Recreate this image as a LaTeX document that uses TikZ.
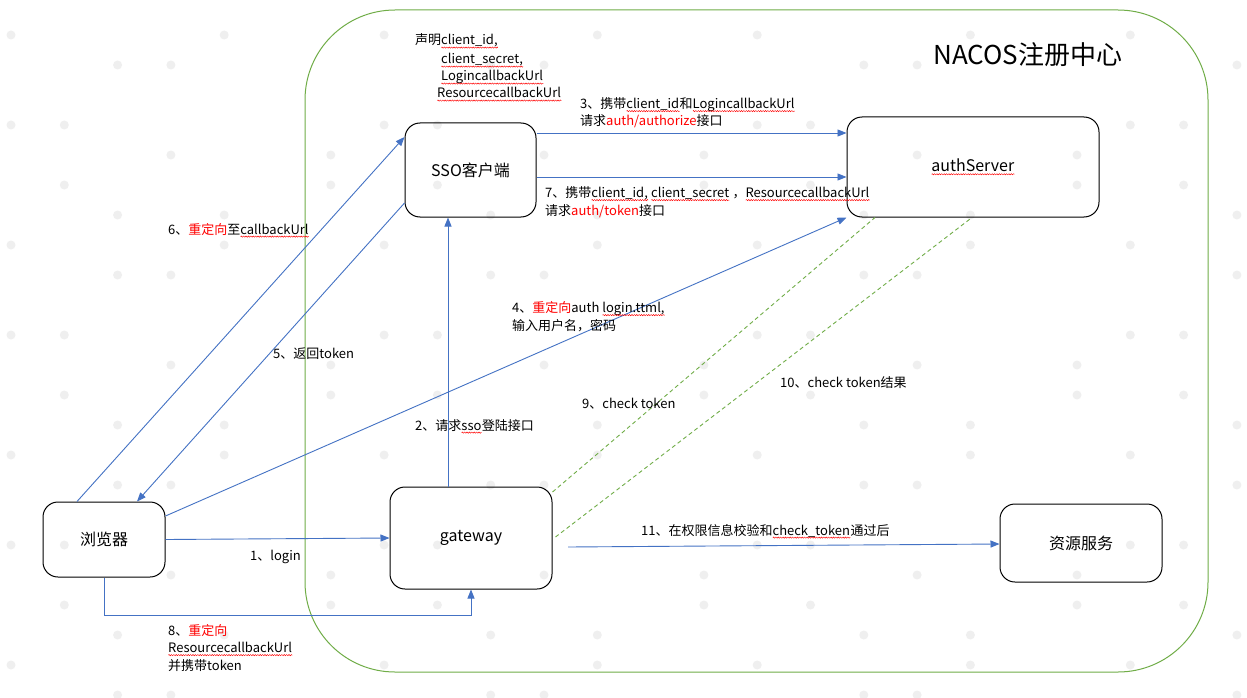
\documentclass[tikz,border=0pt]{standalone}
\usepackage{fontspec}
\usetikzlibrary{arrows.meta,calc,decorations.pathmorphing}
\newfontfamily\cjk{Noto Sans CJK SC}
\definecolor{lnblue}{HTML}{4472C4}
\definecolor{lngreen}{HTML}{70AD47}
\definecolor{txred}{HTML}{FF0000}
\definecolor{dotgray}{HTML}{EFEFEF}
\newsavebox\wvbox
\newdimen\wvlen
\newcommand\wv[1]{\sbox\wvbox{#1}\wvlen=\wd\wvbox\leavevmode\rlap{\usebox\wvbox}\raisebox{-2.6pt}{\tikz[baseline=0pt,x=1pt,y=1pt]\draw[red,sharp corners,solid,line width=0.45pt,decorate,decoration={zigzag,segment length=2.4pt,amplitude=0.6pt}] (0,0) -- (\the\wvlen,0);}}
\newcommand\rd[1]{\textcolor{txred}{#1}}
\tikzset{
  box/.style={draw=black,line width=1pt,rounded corners=15pt,font=\cjk\fontsize{16}{19}\selectfont,inner sep=0pt},
  lbl/.style={anchor=base west,inner sep=0pt,font=\cjk\fontsize{13}{17.5}\selectfont,align=left},
  arr/.style={draw=lnblue,line width=0.9pt,-{Triangle[length=9pt,width=7pt]}},
  dsh/.style={draw=lngreen,line width=0.9pt,dash pattern=on 4pt off 3pt}
}
\begin{document}
\begin{tikzpicture}[x=1pt,y=-1pt]
\useasboundingbox (0,0) rectangle (1247,698);
\fill[white] (0,0) rectangle (1247,698);
% faint background dots
\foreach \i in {0,...,23}{
  \foreach \j in {0,...,22}{
    \pgfmathsetmacro\rr{mod(\i*37+\j*61+\i*\j*13,7)}
    \ifdim\rr pt<2pt
      \fill[dotgray] (11+53.3*\i,35+30*\j) circle (4.5);
    \fi
  }
}
% NACOS container
\draw[lngreen,line width=1pt,rounded corners=90pt] (305,10) rectangle (1208,672);
\node[anchor=base west,inner sep=0pt,font=\cjk\fontsize{26}{30}\selectfont] (nacos) at (933,65) {NACOS注册中心};
% boxes
\node[box,minimum width=131pt,minimum height=94pt] (sso) at (470.5,170) {SSO客户端};
\node[box,minimum width=252pt,minimum height=100pt] (auth) at (973,167) {\raisebox{-2pt}{\wv{authServer}}};
\node[box,minimum width=162pt,minimum height=102pt] (gw) at (471,538) {\raisebox{-5pt}{gateway}};
\node[box,minimum width=122pt,minimum height=75pt] (bro) at (104,539.5) {浏览器};
\node[box,minimum width=162pt,minimum height=78pt] (res) at (1081,543) {资源服务};
% declaration text
\node[lbl] (t1) at (415,45) {声明\wv{client\_id,}};
\node[lbl] (t2) at (441,64) {\wv{client\_secret,}};
\node[lbl] (t3) at (441,81) {\wv{LogincallbackUrl}};
\node[lbl] (t4) at (437,98) {\wv{ResourcecallbackUrl}};
% connectors
\draw[arr] (bro.east) -- (gw.west);
\draw[arr] (gw.north -| 448,0) -- (sso.south -| 448,0);
\draw[arr] (sso.east |- 0,133) -- (auth.west |- 0,133);
\draw[arr] (sso.east |- 0,177) -- (auth.west |- 0,177);
\draw[arr] (bro.east |- 0,516) -- (auth.south west);
\draw[arr] (sso.west |- 0,203) -- (bro.north -| 137,0);
\draw[arr] (bro.north -| 77,0) -- (sso.west |- 0,137);
\draw[arr] (bro.south) -- ++(0,38) -| (gw.south);
\draw[dsh] (gw.east |- 0,492) -- (auth.south -| 875,0);
\draw[dsh] (gw.east |- 0,537) ++(3,0) -- (auth.south -| 972,0);
\coordinate (s11) at (568,547);
\draw[arr] (s11) -- (res.west |- 0,544);
% labels (multi-line nodes anchored at the last line's baseline)
\node[lbl] (l1) at (250,560) {1、login};
\node[lbl] (l2) at (415,430) {2、请求\wv{sso}登陆接口};
\node[lbl] (l3) at (580,126) {3、携带\wv{client\_id}和\wv{LogincallbackUrl}\\请求\rd{auth/authorize}接口};
\node[lbl] (l4) at (512,330) {4、\rd{重定向}auth \wv{login.ttml,}\\输入用户名，密码};
\node[lbl] (l5) at (273,358) {5、返回token};
\node[lbl] (l6) at (168,234) {6、\rd{重定向}至\wv{callbackUrl}};
\node[lbl] (l7) at (545,215) {7、携带\wv{client\_id,} \wv{client\_secret} ，\wv{ResourcecallbackUrl}\\请求\rd{auth/token}接口};
\node[lbl] (l8) at (168,670) {8、\rd{重定向}\\\wv{ResourcecallbackUrl}\\并携带token};
\node[lbl] (l9) at (582,408) {9、check token};
\node[lbl] (l10) at (780,387) {10、check token结果};
\node[lbl] (l11) at (641,535) {11、在权限信息校验和\wv{check\_token}通过后};
\end{tikzpicture}
\end{document}
